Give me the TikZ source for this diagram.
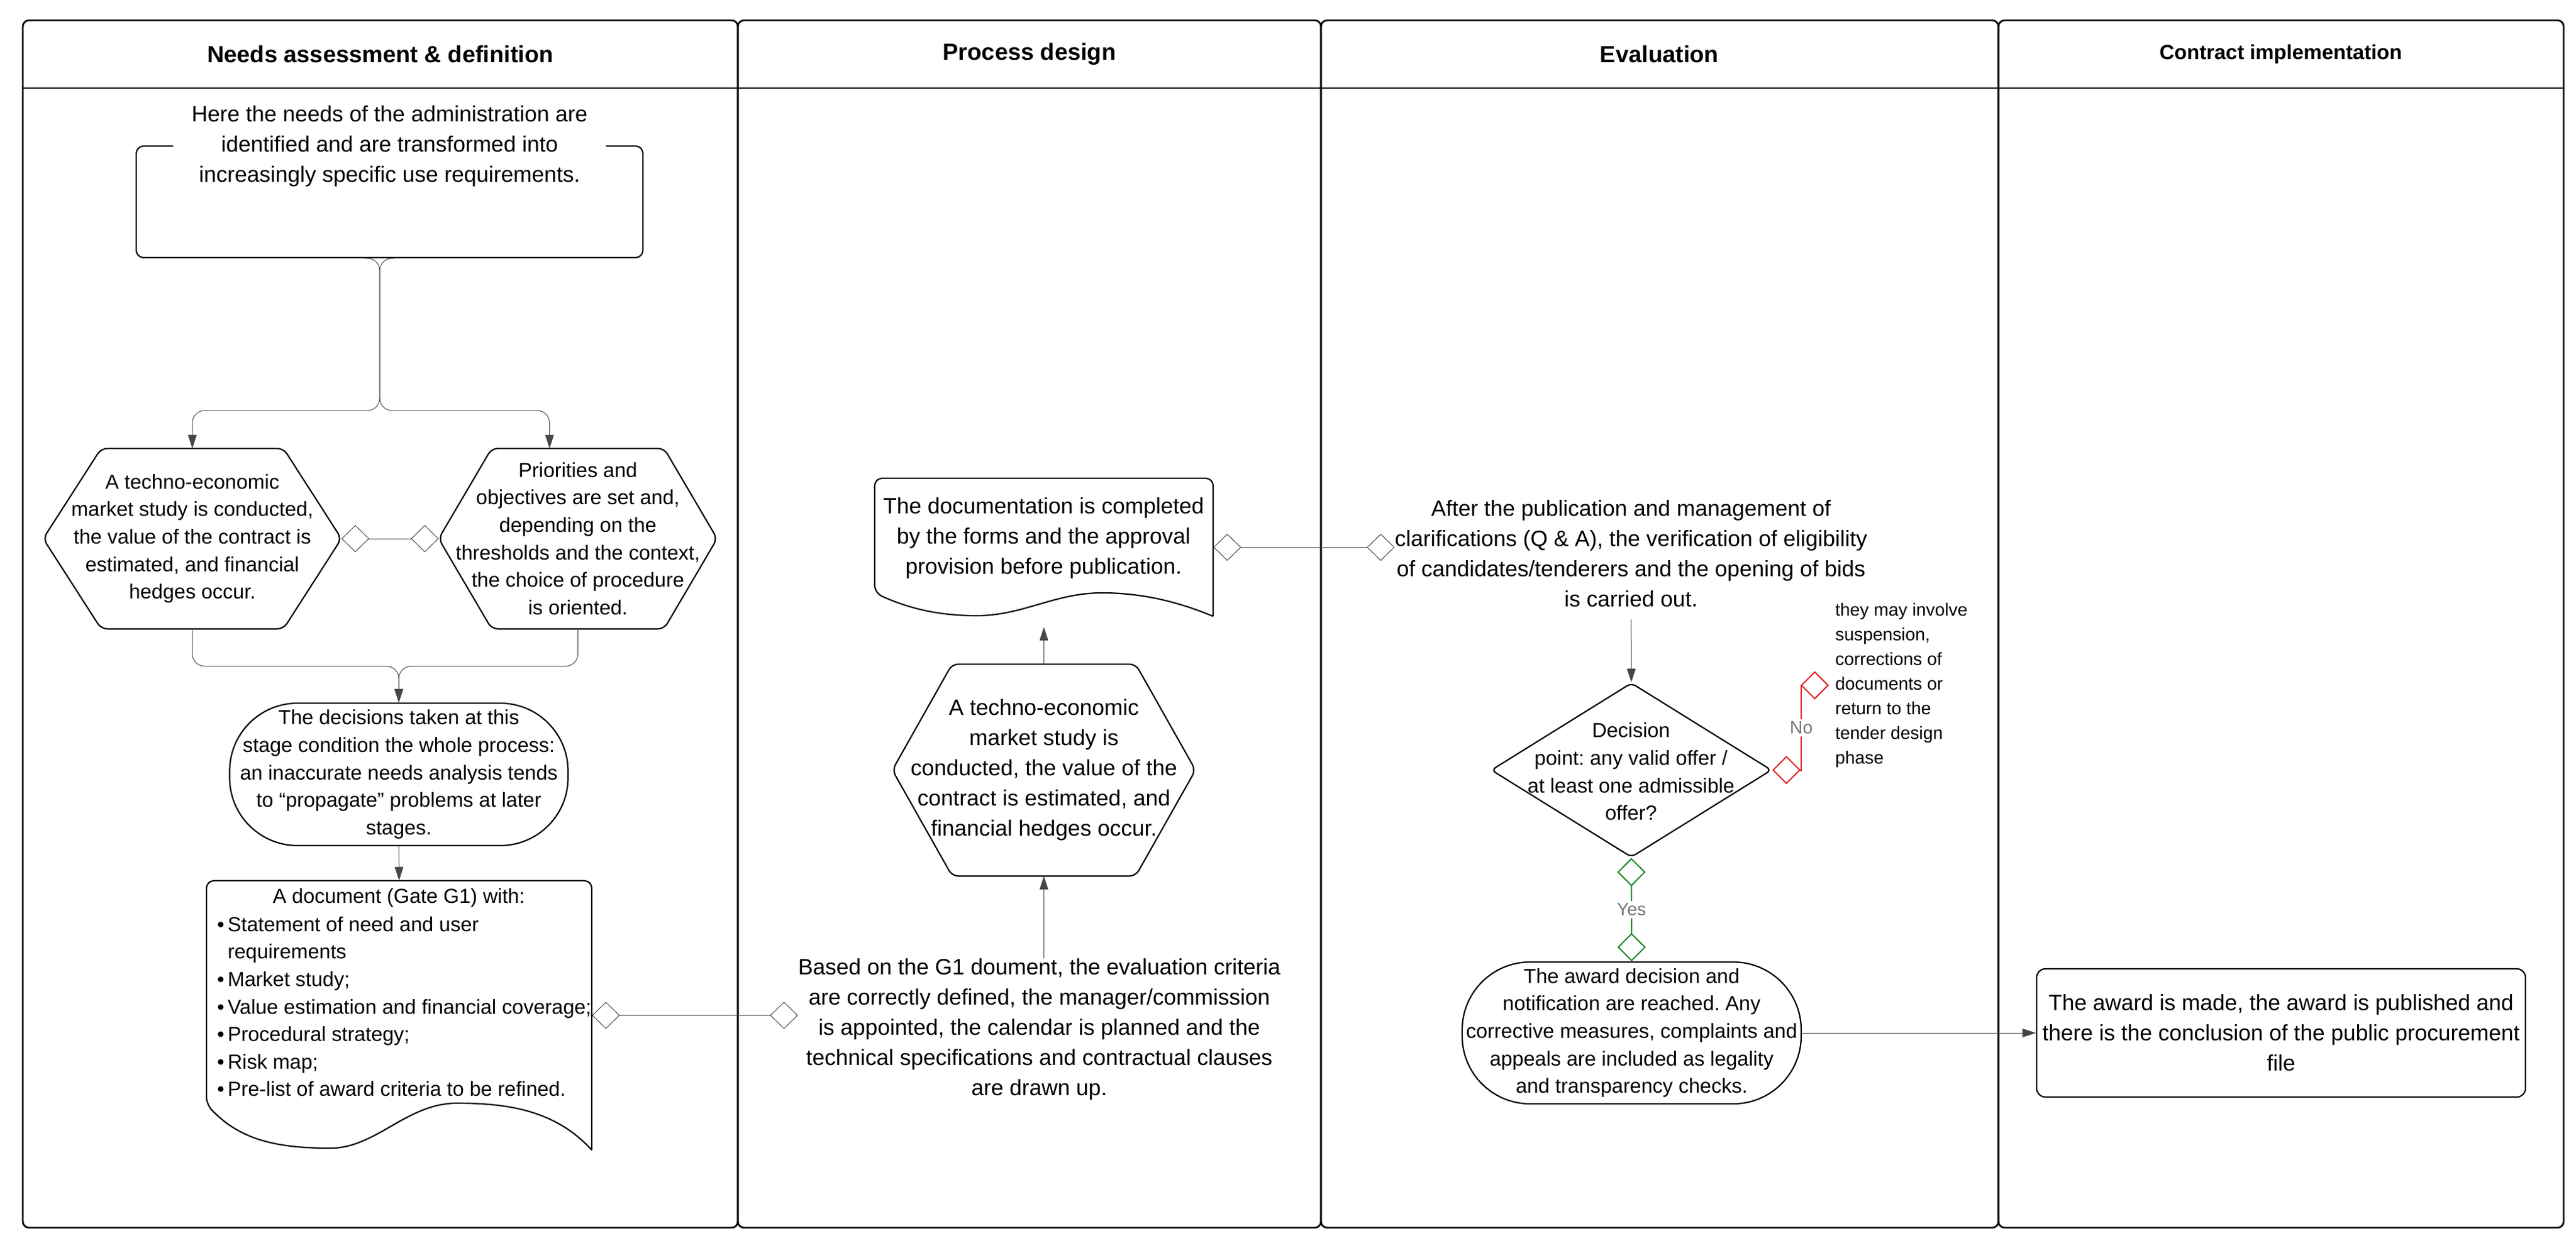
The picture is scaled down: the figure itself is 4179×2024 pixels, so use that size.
\documentclass[tikz,border=0pt]{standalone}
\usepackage{fontspec}
\setmainfont{Liberation Sans}
\usepackage{xcolor}
\usetikzlibrary{arrows.meta,calc,shapes.geometric}
\definecolor{flowgray}{RGB}{70,70,70}
\definecolor{nored}{RGB}{226,30,30}
\definecolor{yesgreen}{RGB}{22,136,34}
\definecolor{lblgray}{RGB}{118,118,118}
\frenchspacing

\newcommand{\blt}{\makebox[8.5pt][l]{•}}
\newcommand{\blank}{\makebox[8.5pt]{}}
\newcommand{\hexoutline}[2]{\draw[shapeline, rounded corners=5pt] (#1.west) -- ($(#1.north west)+(#2,0)$) -- ($(#1.north east)+(-#2,0)$) -- (#1.east) -- ($(#1.south east)+(-#2,0)$) -- ($(#1.south west)+(#2,0)$) -- cycle;}

\tikzset{
  lane/.style={draw, line width=1.4pt, rounded corners=5pt},
  shapeline/.style={draw, line width=1.1pt},
  bigtxt/.style={align=center, inner sep=0pt, font=\fontsize{18}{24.5}\selectfont},
  smalltxt/.style={align=center, inner sep=0pt, font=\fontsize{16.5}{22.3}\selectfont},
  notetxt/.style={align=left, inner sep=0pt, font=\fontsize{14.4}{20}\selectfont},
  headtxt/.style={font=\fontsize{19}{23}\selectfont\bfseries},
  lbl/.style={text=lblgray, fill=white, inner sep=2pt, font=\fontsize{14.5}{17}\selectfont},
  flow/.style={draw=flowgray, line width=0.5pt},
  arr/.style={flow, -{Triangle[length=11pt,width=7pt]}},
  agg/.style={flow, {Diamond[open,length=22.5pt,width=22pt]}-{Diamond[open,length=22.5pt,width=22pt]}},
  nobranch/.style={draw=nored, line width=1pt, {Diamond[open,length=23pt,width=23pt]}-{Diamond[open,length=23pt,width=23pt]}},
  yesbranch/.style={draw=yesgreen, line width=1pt, {Diamond[open,length=23pt,width=23pt]}-{Diamond[open,length=23pt,width=23pt]}}
}

\begin{document}
\begin{tikzpicture}[x=0.5pt,y=0.5pt,yscale=-1,xscale=1]
\useasboundingbox (0,0) rectangle (4179,2024);

%Lanes
\draw[lane] (37,33) rectangle (1197,1992);
\draw[lane] (1197,33) rectangle (2143,1992);
\draw[lane] (2143,33) rectangle (3242,1992);
\draw[lane] (3242,33) rectangle (4159,1992);
\draw[line width=1.4pt] (37,143) -- (4159,143);

% Text Node
\node[headtxt] (hNeeds) at (617,88) {Needs assessment \& definition};
% Text Node
\node[headtxt] (hDesign) at (1670,88) {Process design};
% Text Node
\node[headtxt] (hEval) at (2692,88) {Evaluation};
% Text Node
\node[headtxt, font=\fontsize{16.7}{20}\selectfont\bfseries] (hContract) at (3700,88) {Contract implementation};

%Needs assessment lane
\node[shapeline, rounded corners=6pt, minimum width=411pt, minimum height=90.5pt] (introBox) at (632,327.5) {};
\node[bigtxt, fill=white, inner xsep=15pt] (intro) at (632,237) {Here the needs of the administration are\\identified and are transformed into\\increasingly specific use requirements.};

%Shape: Hexagon
\node[smalltxt, minimum width=241.5pt, minimum height=146pt] (hexA) at (312,874) {A techno-economic\\market study is conducted,\\the value of the contract is\\estimated, and financial\\hedges occur.};
\hexoutline{hexA}{94}
%Shape: Hexagon
\node[smalltxt, minimum width=225.5pt, minimum height=146pt] (hexB) at (937.5,874) {Priorities and\\objectives are set and,\\depending on the\\thresholds and the context,\\the choice of procedure\\is oriented.};
\hexoutline{hexB}{86}

%Rounded Rect
\node[shapeline, smalltxt, rounded corners=55pt, minimum width=274.5pt, minimum height=115.5pt] (impact) at (647,1256.5) {The decisions taken at this\\stage condition the whole process:\\an inaccurate needs analysis tends\\to “propagate” problems at later\\stages.};

%Shape: Document
\node[minimum width=312.5pt, minimum height=218.5pt, inner sep=0pt] (docG) at (647.5,1647.5) {};
\draw[shapeline] (960,1866) [rounded corners=6pt] -- (960,1429) -- (335,1429) -- (335,1792) [sharp corners] .. controls (390,1850) and (450,1863) .. (536,1863) .. controls (610,1863) and (660,1790) .. (741,1790) .. controls (820,1790) and (900,1800) .. (960,1866);
\node[smalltxt] (docGtitle) at (647,1457) {A document (Gate G1) with:};
\node[smalltxt, align=left, anchor=north west] (docGlist) at (352,1487) {\blt Statement of need and user\\\blank requirements\\\blt Market study;\\\blt Value estimation and financial coverage;\\\blt Procedural strategy;\\\blt Risk map;\\\blt Pre-list of award criteria to be refined.};

%Process design lane
\node[bigtxt] (designTxt) at (1686,1670) {Based on the G1 doument, the evaluation criteria\\are correctly defined, the manager/commission\\is appointed, the calendar is planned and the\\technical specifications and contractual clauses\\are drawn up.};
%Shape: Hexagon
\node[bigtxt, minimum width=245.5pt, minimum height=171.5pt] (hexC) at (1693.5,1249.5) {A techno-economic\\market study is\\conducted, the value of the\\contract is estimated, and\\financial hedges occur.};
\hexoutline{hexC}{97}
%Shape: Document
\node[minimum width=274.5pt, minimum height=112pt, inner sep=0pt] (docP) at (1693.5,888) {};
\draw[shapeline] (1968,1000) [rounded corners=6pt] -- (1968,776) -- (1419,776) -- (1419,962) [sharp corners] .. controls (1480,990) and (1530,999) .. (1584,999) .. controls (1660,999) and (1710,962) .. (1788,962) .. controls (1860,962) and (1920,980) .. (1968,1000);
\node[bigtxt] (docPtxt) at (1693,873) {The documentation is completed\\by the forms and the approval\\provision before publication.};

%Evaluation lane
\node[bigtxt] (evalTxt) at (2646,898) {After the publication and management of\\clarifications (Q \& A), the verification of eligibility\\of candidates/tenderers and the opening of bids\\is carried out.};
%Shape: Diamond
\node[shapeline, diamond, rounded corners=4pt, minimum width=227.5pt, minimum height=141.5pt, inner sep=0pt] (offerQ) at (2646.5,1249.5) {};
\node[smalltxt] (offerQtxt) at (2646,1252) {Decision\\point: any valid offer /\\at least one admissible\\offer?};
% Text Node
\node[notetxt, anchor=west] (noteTxt) at (2977,1112) {they may involve\\suspension,\\corrections of\\documents or\\return to the\\tender design\\phase};
%Rounded Rect
\node[shapeline, smalltxt, rounded corners=55pt, minimum width=275pt, minimum height=115pt] (award) at (2647,1676) {The award decision and\\notification are reached. Any\\corrective measures, complaints and\\appeals are included as legality\\and transparency checks.};

%Contract implementation lane
\node[shapeline, bigtxt, rounded corners=7pt, minimum width=396.5pt, minimum height=104pt] (final) at (3700.5,1676) {The award is made, the award is published and\\there is the conclusion of the public procurement\\file};

%Connectors
\coordinate (split) at ([xshift=-8pt]introBox.south);
\coordinate (merge) at (647,1081);
\draw[arr, rounded corners=10pt] ([xshift=-12pt]split) -- (split) -- ++(0,247) -| (hexA.north);
\draw[arr, rounded corners=10pt] ([xshift=12pt]split) -- (split) -- ++(0,247) -| ([xshift=-23pt]hexB.north);
\draw[agg] (hexA.east) -- (hexB.west);
\draw[arr, rounded corners=10pt] (hexA.south) |- (merge) -- (impact.north);
\draw[arr, rounded corners=10pt] (hexB.south) |- (merge) -- (impact.north);
\draw[arr] (impact.south) -- (docG.north);
\draw[agg] (docG.east) -- (docG.east -| designTxt.west);
\draw[arr] (designTxt.north -| hexC.south) -- (hexC.south);
\draw[arr] (hexC.north) -- ([yshift=8.5pt]docP.south);
\draw[agg] (docP.east) -- (docP.east -| evalTxt.west);
\draw[arr, shorten <=10pt] (evalTxt.south) -- (offerQ.north);
\draw[nobranch] (offerQ.east) -- ++(47,0) |- node[lbl, pos=0.25] {No} ([xshift=-5pt]noteTxt.west);
\draw[yesbranch] (offerQ.south) -- node[lbl] {Yes} (award.north);
\draw[arr] (award.east) -- (final.west);

\end{tikzpicture}
\end{document}
